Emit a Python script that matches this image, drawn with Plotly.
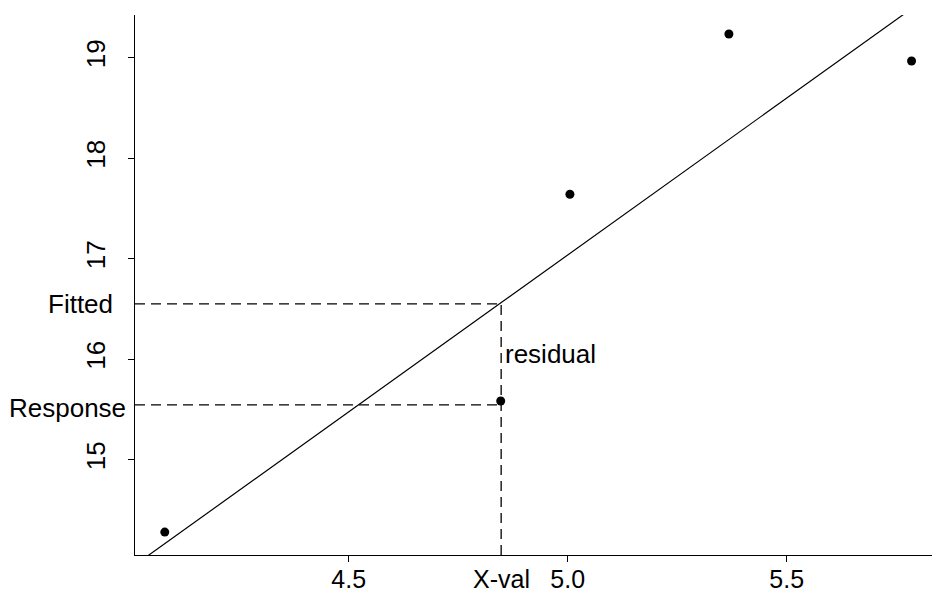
import plotly.graph_objects as go

# Observed data points
x_obs = [4.080, 4.847, 5.005, 5.368, 5.785]
y_obs = [14.28, 15.584, 17.641, 19.236, 18.967]

# Fitted regression line (two points on it; clipped by the axes)
fit_x = [4.03, 5.77]
fit_y = [14.009, 19.441]

# Values marked by the guide lines
x_val = 4.848
fitted_value = 16.55
response_value = 15.545

# Axis ranges and ticks
x_range = [4.012, 5.8317]
y_range = [14.052, 19.425]
x_ticks = [4.5, 5.0, 5.5]
x_tick_text = ["4.5", "5.0", "5.5"]
y_ticks = [15, 16, 17, 18, 19]
y_tick_text = ["15", "16", "17", "18", "19"]

FONT = "Liberation Sans, Arial, Helvetica, sans-serif"
FS = 26
FS_X = 25
DASH = "10px,6px"
GUIDE = "black"

fig = go.Figure()

# guide lines
fig.add_trace(go.Scatter(
    x=[x_range[0], x_val], y=[fitted_value, fitted_value], mode="lines",
    line=dict(color=GUIDE, width=1.3, dash=DASH), hoverinfo="skip"))
fig.add_trace(go.Scatter(
    x=[x_range[0], x_val], y=[response_value, response_value], mode="lines",
    line=dict(color=GUIDE, width=1.3, dash=DASH), hoverinfo="skip"))
fig.add_trace(go.Scatter(
    x=[x_val, x_val], y=[y_range[0], fitted_value], mode="lines",
    line=dict(color=GUIDE, width=1.3, dash=DASH), hoverinfo="skip"))

# regression line
fig.add_trace(go.Scatter(
    x=fit_x, y=fit_y, mode="lines",
    line=dict(color="black", width=1.2), hoverinfo="skip"))

# observations
fig.add_trace(go.Scatter(
    x=x_obs, y=y_obs, mode="markers",
    marker=dict(color="black", size=9, line=dict(width=0)),
    cliponaxis=False))

axis_common = dict(
    showgrid=False, zeroline=False, showline=True, linecolor="black",
    linewidth=1.3, ticks="outside", ticklen=6, tickwidth=1.2,
    tickcolor="black", mirror=False, automargin=False,
)

fig.update_layout(
    width=932, height=596,
    margin=dict(l=135, r=0, t=15, b=41, autoexpand=False),
    paper_bgcolor="white", plot_bgcolor="white",
    showlegend=False,
    font=dict(family=FONT, size=FS, color="black"),
    xaxis=dict(range=x_range, tickvals=x_ticks, ticktext=x_tick_text,
               ticklabelstandoff=-4,
               tickfont=dict(family=FONT, size=FS_X, color="black"),
               **axis_common),
    yaxis=dict(range=y_range, tickvals=y_ticks, ticktext=y_tick_text,
               tickangle=-90, ticklabelstandoff=12,
               tickfont=dict(family=FONT, size=FS, color="black"),
               **axis_common),
    annotations=[
        dict(text="Fitted", xref="paper", x=0, xanchor="right", xshift=-20,
             yref="y", y=fitted_value, yanchor="middle", showarrow=False,
             font=dict(family=FONT, size=FS, color="black")),
        dict(text="Response", xref="paper", x=0, xanchor="right", xshift=-7,
             yref="y", y=response_value, yanchor="middle", yshift=-3,
             showarrow=False,
             font=dict(family=FONT, size=FS, color="black")),
        dict(text="residual", xref="x", x=x_val, xanchor="left", xshift=2,
             yref="y", y=(fitted_value + response_value) / 2,
             yanchor="middle", showarrow=False,
             font=dict(family=FONT, size=FS, color="black")),
        dict(text="X-val", xref="x", x=x_val, xanchor="center",
             yref="paper", y=0, yanchor="top", yshift=-8,
             showarrow=False,
             font=dict(family=FONT, size=FS_X, color="black")),
    ],
)

fig.write_html("out.html")
